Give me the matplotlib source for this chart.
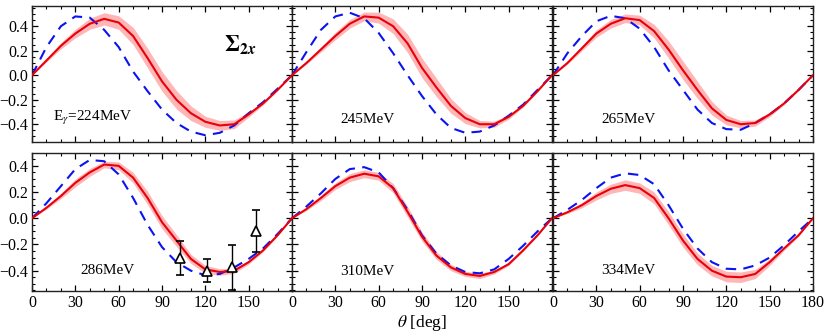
import numpy as np
import matplotlib
matplotlib.use("Agg")
import matplotlib.pyplot as plt
from matplotlib.ticker import MultipleLocator, FuncFormatter

plt.rcParams['font.family'] = ['Liberation Serif', 'DejaVu Serif']
plt.rcParams['mathtext.fontset'] = 'stix'

theta = [0, 10, 20, 30, 40, 50, 60, 70, 80, 90, 100, 110, 120, 130, 140, 150, 160, 170, 180]
energies = ["224", "245", "265", "286", "310", "334"]

red_224 = [0, 0.12, 0.24, 0.34, 0.42, 0.46, 0.43, 0.32, 0.14, -0.05, -0.20, -0.31, -0.38, -0.41, -0.40, -0.32, -0.23, -0.12, 0]
red_245 = [0, 0.10, 0.21, 0.32, 0.42, 0.48, 0.47, 0.40, 0.26, 0.06, -0.10, -0.25, -0.35, -0.40, -0.40, -0.34, -0.25, -0.13, 0]
red_265 = [0, 0.10, 0.22, 0.34, 0.42, 0.465, 0.45, 0.36, 0.21, 0.04, -0.12, -0.27, -0.365, -0.40, -0.39, -0.32, -0.23, -0.12, 0]
red_286 = [0, 0.08, 0.17, 0.27, 0.35, 0.41, 0.40, 0.31, 0.155, -0.03, -0.17, -0.31, -0.39, -0.41, -0.40, -0.335, -0.245, -0.13, 0]
red_310 = [0, 0.07, 0.155, 0.245, 0.31, 0.34, 0.32, 0.23, 0.05, -0.14, -0.285, -0.375, -0.425, -0.44, -0.41, -0.35, -0.245, -0.13, 0]
red_334 = [0, 0.046, 0.10, 0.17, 0.225, 0.253, 0.23, 0.155, 0.0, -0.17, -0.31, -0.40, -0.445, -0.45, -0.425, -0.335, -0.23, -0.13, 0]

band_224 = [0, 0.012, 0.025, 0.035, 0.045, 0.05, 0.055, 0.07, 0.08, 0.08, 0.075, 0.06, 0.045, 0.04, 0.035, 0.022, 0.012, 0.005, 0]
band_245 = [0, 0.01, 0.02, 0.03, 0.035, 0.035, 0.045, 0.06, 0.075, 0.08, 0.075, 0.06, 0.045, 0.03, 0.025, 0.018, 0.01, 0.005, 0]
band_265 = [0, 0.01, 0.02, 0.03, 0.035, 0.035, 0.04, 0.055, 0.07, 0.075, 0.07, 0.055, 0.04, 0.03, 0.025, 0.018, 0.01, 0.005, 0]
band_286 = [0, 0.01, 0.02, 0.03, 0.03, 0.025, 0.03, 0.04, 0.05, 0.05, 0.045, 0.035, 0.03, 0.025, 0.02, 0.015, 0.01, 0.005, 0]
band_310 = [0, 0.01, 0.02, 0.025, 0.03, 0.03, 0.03, 0.035, 0.04, 0.035, 0.03, 0.025, 0.02, 0.02, 0.015, 0.01, 0.008, 0.004, 0]
band_334 = [0, 0.01, 0.02, 0.03, 0.035, 0.04, 0.04, 0.045, 0.05, 0.05, 0.045, 0.04, 0.04, 0.04, 0.035, 0.025, 0.015, 0.008, 0]

blue_224 = [0, 0.23, 0.40, 0.48, 0.47, 0.37, 0.23, 0.03, -0.13, -0.28, -0.39, -0.46, -0.49, -0.47, -0.41, -0.31, -0.22, -0.11, 0]
blue_245 = [0, 0.19, 0.37, 0.48, 0.51, 0.465, 0.345, 0.18, 0.0, -0.17, -0.32, -0.43, -0.47, -0.46, -0.41, -0.33, -0.24, -0.12, 0]
blue_265 = [0, 0.18, 0.32, 0.44, 0.485, 0.465, 0.38, 0.23, 0.04, -0.12, -0.28, -0.39, -0.44, -0.445, -0.39, -0.32, -0.23, -0.12, 0]
blue_286 = [0, 0.115, 0.245, 0.375, 0.445, 0.435, 0.335, 0.155, -0.05, -0.22, -0.335, -0.40, -0.435, -0.425, -0.375, -0.31, -0.23, -0.12, 0]
blue_310 = [0, 0.09, 0.19, 0.30, 0.375, 0.39, 0.35, 0.23, 0.065, -0.13, -0.27, -0.36, -0.41, -0.42, -0.39, -0.31, -0.21, -0.10, 0]
blue_334 = [0, 0.065, 0.14, 0.23, 0.31, 0.343, 0.33, 0.26, 0.10, -0.08, -0.23, -0.335, -0.385, -0.39, -0.36, -0.30, -0.205, -0.10, 0]

data_theta = [102.5, 121.4, 138.7, 155.0]
data_val = [-0.30, -0.40, -0.375, -0.10]
data_err = [0.13, 0.09, 0.17, 0.16]

reds = [red_224, red_245, red_265, red_286, red_310, red_334]
bands = [band_224, band_245, band_265, band_286, band_310, band_334]
blues = [blue_224, blue_245, blue_265, blue_286, blue_310, blue_334]
label_y = [-0.35, -0.365, -0.365, -0.395, -0.41, -0.40]

fig = plt.figure(figsize=(8.3, 3.32), dpi=100)
W, H = 830.0, 332.0
lefts = [32, 292, 553]
pw = 260
rows = [(6, 142), (153, 291)]
ylims = [(-0.545, 0.565), (-0.555, 0.498)]


def yfmt(v, p):
    return ("\u2212%.1f" % abs(v)) if v < -1e-9 else "%.1f" % abs(v)


def xfmt_inner(v, p):
    return "" if v > 179 else "%d" % round(v)


th = np.array(theta)
for i in range(6):
    r, c = divmod(i, 3)
    top, bot = rows[r]
    ax = fig.add_axes([lefts[c] / W, 1 - bot / H, pw / W, (bot - top) / H])
    red = np.array(reds[i]); band = np.array(bands[i])
    ax.fill_between(th, red - band, red + band, color='#ffb6b6', lw=0, zorder=1)
    ax.plot(th, red, color='#e8000b', lw=1.5, zorder=3)
    ax.plot(th, blues[i], color='#0a14f0', lw=1.5, ls=(0, (5, 3.5)), zorder=2)
    if i == 3:
        ax.errorbar(data_theta, data_val, yerr=data_err, fmt='^', mfc='white', mec='black',
                    ecolor='black', ms=7, mew=1.2, capsize=3, elinewidth=1, zorder=5)
    ax.set_xlim(0, 180)
    ax.set_ylim(*ylims[r])
    ax.xaxis.set_major_locator(MultipleLocator(30))
    ax.xaxis.set_minor_locator(MultipleLocator(10))
    ax.yaxis.set_major_locator(MultipleLocator(0.2))
    ax.yaxis.set_minor_locator(MultipleLocator(0.05))
    ax.tick_params(which='both', direction='in', top=True, right=True, labelsize=11.5, pad=3)
    ax.tick_params(which='major', length=4.5, width=0.9)
    ax.tick_params(which='minor', length=2.5, width=0.8)
    ax.yaxis.set_major_formatter(FuncFormatter(yfmt))
    if c < 2:
        ax.xaxis.set_major_formatter(FuncFormatter(xfmt_inner))
    for s in ax.spines.values():
        s.set_linewidth(1.0)
        s.set_color('#222222')
    if r == 0:
        ax.tick_params(labelbottom=False)
    if c != 0:
        ax.tick_params(labelleft=False)
    if i == 0:
        ax.text(42, label_y[i], r'E$_\gamma$=224MeV', ha='center', va='center', fontsize=11)
        ax.text(144, 0.25, r'$\mathbf{\Sigma}_{\mathbf{2}\mathbfit{x}}$', ha='center', va='center', fontsize=16)
    else:
        ax.text(52, label_y[i], energies[i] + 'MeV', ha='center', va='center', fontsize=11)
    if i == 4:
        ax.set_xlabel(r'$\theta$ [deg]', fontsize=12.5, labelpad=1)

fig.savefig('out.png', dpi=100)
